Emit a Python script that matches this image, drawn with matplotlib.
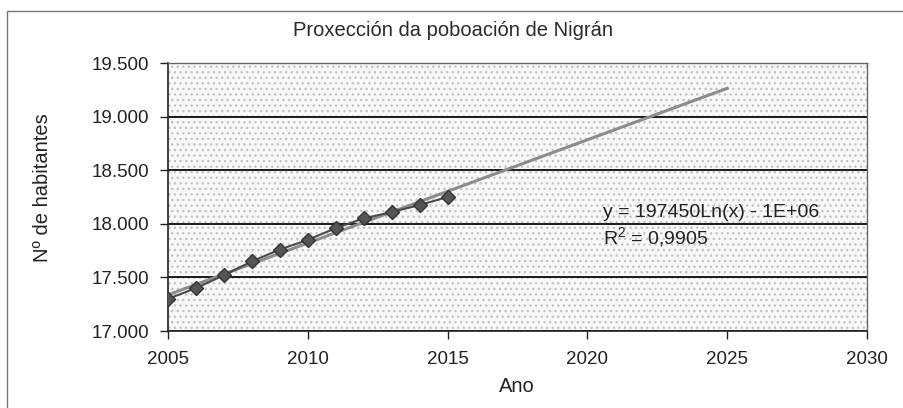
import numpy as np
import matplotlib
matplotlib.use('Agg')
import matplotlib.pyplot as plt
from matplotlib.ticker import FuncFormatter
from matplotlib.patches import Rectangle

plt.rcParams['font.family'] = ['Liberation Sans', 'DejaVu Sans']

# population of Nigrán
years = [2005, 2006, 2007, 2008, 2009, 2010, 2011, 2012, 2013, 2014, 2015]
habitantes = [17300, 17400, 17520, 17650, 17760, 17850, 17960, 18050, 18110, 18175, 18250]

# logarithmic trend line (Excel style), extended to 2025
trend_start, trend_end = 2005, 2025
eq_text = 'y = 197450Ln(x) - 1E+06'
r2_text = '$\\mathregular{R^2}$ = 0,9905'

x_ticks = [2005, 2010, 2015, 2020, 2025, 2030]
y_ticks = [17000, 17500, 18000, 18500, 19000, 19500]

fig = plt.figure(figsize=(9.04, 4.08), dpi=100)
ax = fig.add_axes([168 / 904, 77 / 408, 699 / 904, 268 / 408])

# stippled grey plot area
ax.set_facecolor('white')
ax.add_patch(Rectangle((0, 0), 1, 1, transform=ax.transAxes, facecolor='#f8f8f8',
                       edgecolor='#c4c4c4', hatch='...', linewidth=0, zorder=0))

for yv in y_ticks:
    ax.axhline(yv, color='#1a1a1a', lw=1.4, zorder=1)

coef = np.polyfit(np.log(years), habitantes, 1)
tx = np.arange(trend_start, trend_end + 0.5, 0.5)
ax.plot(tx, np.polyval(coef, np.log(tx)), color='#8c8c8c', lw=2.2, zorder=3)

ax.plot(years, habitantes, color='#4a4a4a', lw=1.5, marker='D', markersize=7,
        markerfacecolor='#555555', markeredgecolor='#333333', zorder=4)

ax.text(2020.55, 18110, eq_text, fontsize=14, va='center', color='#222222', zorder=5)
ax.text(2020.55, 17875, r2_text, fontsize=14, va='center', color='#222222', zorder=5)

ax.set_xlim(2005, 2030)
ax.set_ylim(17000, 19500)
ax.set_xticks(x_ticks)
ax.set_yticks(y_ticks)
ax.yaxis.set_major_formatter(FuncFormatter(lambda v, p: f'{int(v):,}'.replace(',', '.')))
ax.tick_params(axis='both', labelsize=13.5, colors='#222222', length=5.5, width=1, direction='out')
ax.tick_params(axis='x', pad=9)
ax.tick_params(axis='y', pad=8)

for side in ['top', 'right']:
    ax.spines[side].set_color('#666666')
    ax.spines[side].set_linewidth(1)
for side in ['left', 'bottom']:
    ax.spines[side].set_color('#222222')
    ax.spines[side].set_linewidth(1.2)

fig.text(517 / 904, 1 - 386 / 408, 'Ano', fontsize=14.5, ha='center', va='center', color='#222222')
fig.text(43 / 904, 1 - 188 / 408, 'Nº de habitantes', fontsize=14.5, rotation=90,
         ha='center', va='center', color='#222222')
fig.text(453 / 904, 1 - 31 / 408, 'Proxección da poboación de Nigrán',
         fontsize=14.5, ha='center', va='center', color='#2a2a2a')

# outer chart frame
fig.add_artist(Rectangle((7 / 904, -0.01), 1.0, 1 - 11 / 408 + 0.01, transform=fig.transFigure,
                         fill=False, edgecolor='#777777', lw=1))

fig.savefig('out.png', dpi=100)
